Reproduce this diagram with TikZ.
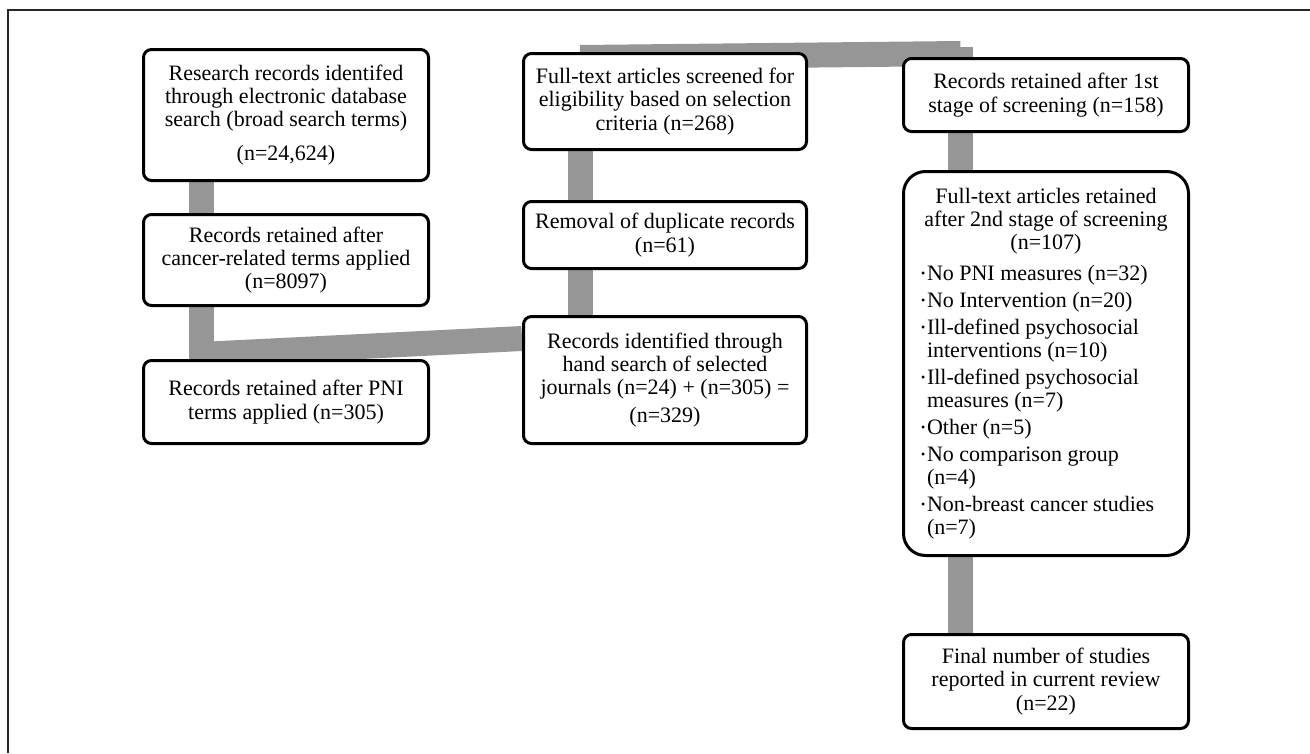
\documentclass[tikz,border=0pt]{standalone}
\usepackage{fontspec}
\setmainfont{Liberation Serif}
\usetikzlibrary{backgrounds}

\definecolor{linkgray}{RGB}{150,150,150}
\newcommand{\bulmark}{\makebox[6pt][l]{\fontsize{12}{12}\selectfont\raisebox{2.5pt}{\textbullet}}}
\newcommand{\bulind}{\hspace*{6pt}}

\begin{document}
\begin{tikzpicture}[
    x=1pt, y=-1pt,
    font=\fontsize{22}{23.3}\selectfont,
    stage/.style={draw,line width=3pt,rounded corners=8pt,fill=white,align=center,minimum width=285pt,inner sep=2pt},
    flow/.style={draw=linkgray,line width=25pt}
]
\useasboundingbox (0,0) rectangle (1310,753);

% Frame
\draw[line width=1.3pt,black!85] (8,753) -- (8,10) -- (1310,10);

% Database search
\node[stage,minimum height=131pt] (R) at (286,115) {Research records identifed\\ through electronic database\\ search (broad search terms)\\[10.7pt] (n=24,624)};
\node[stage,minimum height=91pt] (CR) at (286,260) {Records retained after\\ cancer-related terms applied\\ (n=8097)};
\node[stage,minimum height=83pt] (PNI) at (286,402) {Records retained after PNI\\ terms applied (n=305)};

% Hand search and full text
\node[stage,minimum width=283pt,minimum height=96pt] (FT) at (665,101.5) {Full-text articles screened for\\ eligibility based on selection\\ criteria (n=268)};
\node[stage,minimum width=283pt,minimum height=67pt] (DUP) at (665,235) {Removal of duplicate records\\ (n=61)};
\node[stage,minimum width=283pt,minimum height=127pt] (HS) at (665,380) {Records identified through\\ hand search of selected\\ journals (n=24) + (n=305) =\\[4.7pt] (n=329)};

% Screening stages
\node[stage,minimum height=73pt] (S1) at (1046,95) {Records retained after 1st\\ stage of screening (n=158)};
\node[stage,rounded corners=22pt,minimum height=384pt] (S2) at (1046,363.5) {Full-text articles retained\\ after 2nd stage of screening\\ (n=107)\\[7.5pt]
  \parbox[t]{250pt}{\bulmark No PNI measures (n=32)\\[3.5pt]
  \bulmark No Intervention (n=20)\\[3.5pt]
  \bulmark Ill-defined psychosocial\\ \bulind interventions (n=10)\\[3.5pt]
  \bulmark Ill-defined psychosocial\\ \bulind measures (n=7)\\[3.5pt]
  \bulmark Other (n=5)\\[3.5pt]
  \bulmark No comparison group\\ \bulind (n=4)\\[3.5pt]
  \bulmark Non-breast cancer studies\\ \bulind (n=7)}};
\node[stage,minimum height=94pt] (FIN) at (1046,681.5) {Final number of studies\\ reported in current review\\ (n=22)};

% Connectors
\begin{scope}[on background layer]
\draw[flow] ([xshift=-85pt]R.south) -- ([xshift=-85pt]CR.north);
\draw[flow] ([xshift=-85pt]CR.south) -- ([xshift=-85pt]PNI.north);
\draw[flow] ([yshift=-23.5pt]HS.north west) -- ([xshift=-85.5pt,yshift=4.5pt]PNI.north);
\draw[flow] ([xshift=-85pt]FT.south) -- ([xshift=-85pt]DUP.north);
\draw[flow] ([xshift=-85pt]DUP.south) -- ([xshift=-85pt]HS.north);
\draw[flow] ([xshift=-85pt,yshift=-5.5pt]FT.north) -- ([xshift=-85.5pt,yshift=3.5pt]S1.north);
\draw[flow] ([xshift=-85.5pt,yshift=10pt]S1.north) -- ([xshift=-85.5pt]S1.north);
\draw[flow] ([xshift=-85.5pt]S1.south) -- ([xshift=-85.5pt]S2.north);
\draw[flow] ([xshift=-85.5pt]S2.south) -- ([xshift=-85.5pt]FIN.north);
\end{scope}

\end{tikzpicture}
\end{document}
